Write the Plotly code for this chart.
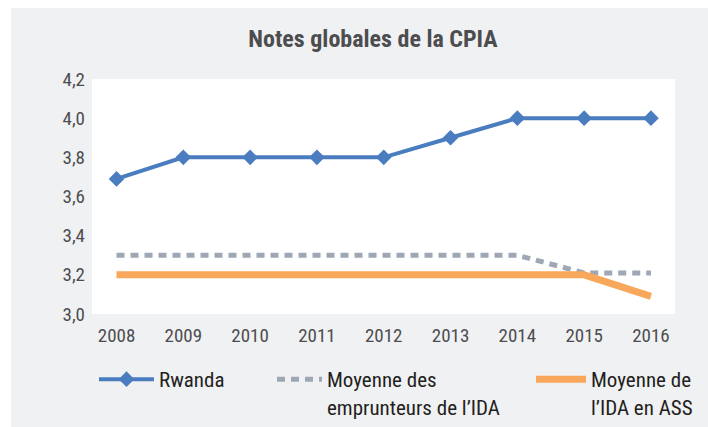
import plotly.graph_objects as go

years = [2008, 2009, 2010, 2011, 2012, 2013, 2014, 2015, 2016]
rwanda = [3.69, 3.8, 3.8, 3.8, 3.8, 3.9, 4.0, 4.0, 4.0]
ida_borrowers = [3.3, 3.3, 3.3, 3.3, 3.3, 3.3, 3.3, 3.21, 3.21]
ida_ssa = [3.2, 3.2, 3.2, 3.2, 3.2, 3.2, 3.2, 3.2, 3.09]
y_ticks = [3.0, 3.2, 3.4, 3.6, 3.8, 4.0, 4.2]

names = ["Rwanda", "Moyenne des<br>emprunteurs de l’IDA", "Moyenne de<br>l’IDA en ASS"]

FONT = "Roboto Condensed, Liberation Sans Narrow, DejaVu Sans Condensed, sans-serif"
W, H = 708, 427
# plot area in pixels: x 92..675, y 79..314
L, R, T, B = 92, 33, 79, 113
pw, ph = W - L - R, H - T - B

def px_x(p):
    return (p - L) / pw

def px_y(p):
    return (H - B - p) / ph

fig = go.Figure()
fig.add_trace(go.Scatter(
    x=years, y=rwanda, name=names[0], mode="lines+markers",
    line=dict(color="#4a7dbf", width=4),
    marker=dict(symbol="diamond", size=12, color="#4a7dbf"),
    legend="legend"))
fig.add_trace(go.Scatter(
    x=years, y=ida_borrowers, name=names[1], mode="lines",
    line=dict(color="#9ea7b4", width=5, dash="8px,6px"),
    legend="legend2"))
fig.add_trace(go.Scatter(
    x=years, y=ida_ssa, name=names[2], mode="lines",
    line=dict(color="#f9a75b", width=7),
    legend="legend3"))

# white outer strips (left and top) around the gray panel
fig.add_shape(type="rect", xref="paper", yref="paper",
              x0=px_x(0), x1=px_x(11), y0=px_y(H), y1=px_y(0),
              fillcolor="white", line_width=0, layer="below")
fig.add_shape(type="rect", xref="paper", yref="paper",
              x0=px_x(0), x1=px_x(W), y0=px_y(8), y1=px_y(0),
              fillcolor="white", line_width=0, layer="below")

legend_common = dict(orientation="v", xanchor="left", yanchor="top",
                     bgcolor="rgba(0,0,0,0)", borderwidth=0, valign="top",
                     font=dict(family=FONT, size=21, color="#231f20"),
                     tracegroupgap=0)

tick_font = dict(family=FONT, size=19, color="#4d4d4f")

fig.update_layout(
    width=W, height=H,
    margin=dict(l=L, r=R, t=T, b=B, autoexpand=False),
    paper_bgcolor="#f0f1f3",
    plot_bgcolor="white",
    separators=", ",
    showlegend=True,
    title=dict(text="<b>Notes globales de la CPIA</b>", xref="container", x=373 / W,
               xanchor="center", yref="container", y=1 - 38.5 / H, yanchor="middle",
               font=dict(family=FONT, size=24, color="#4d4d4f")),
    xaxis=dict(range=[2007.633, 2016.36], tickvals=years, ticktext=[str(y) for y in years],
               showgrid=False, zeroline=False, showline=False, ticks="",
               ticklabelstandoff=8, tickfont=tick_font, automargin=False),
    yaxis=dict(range=[3.0, 4.2], tickvals=y_ticks, tickformat=".1f",
               showgrid=False, zeroline=False, showline=False, ticks="",
               ticklabelstandoff=6, tickfont=tick_font, automargin=False),
    legend=dict(x=px_x(94), y=px_y(359), itemwidth=55, **legend_common),
    legend2=dict(x=px_x(272), y=px_y(359), itemwidth=45, **legend_common),
    legend3=dict(x=px_x(531), y=px_y(359), itemwidth=50, **legend_common),
)

fig.write_html("out.html", config={"displayModeBar": False},
               post_script="document.body.style.margin='0';"
                           "document.body.style.overflow='hidden';")
